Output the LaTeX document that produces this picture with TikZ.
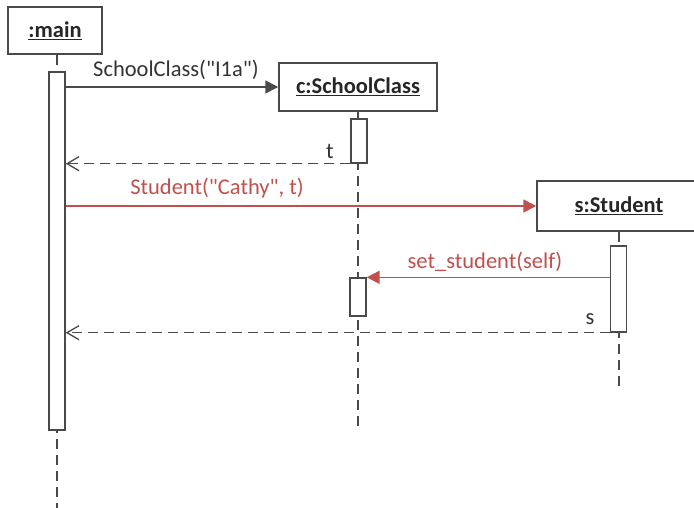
\documentclass[tikz,border=0pt]{standalone}
\usepackage{fontspec}
\setmainfont{Carlito}[Ligatures=TeXOff]
\usetikzlibrary{arrows.meta}
\definecolor{ln}{HTML}{4A4A4A}
\definecolor{rd}{HTML}{C0504D}
\tikzset{
  objbox/.style={draw=ln, line width=1.5pt, fill=white, inner sep=0pt,
    font=\fontsize{22.5}{26}\selectfont\bfseries, text=black!85},
  actbox/.style={draw=ln, line width=1.4pt, fill=white, minimum width=16pt, inner sep=0pt},
  lifeline/.style={draw=ln, line width=1.4pt, dash pattern=on 10pt off 6pt},
  msg/.style={draw=ln, line width=1.6pt, -{Triangle[length=13pt,width=13pt]}},
  redmsg/.style={draw=rd, line width=1.6pt, -{Triangle[length=13pt,width=13pt]}},
  ret/.style={draw=ln, line width=1.4pt, dash pattern=on 10pt off 6pt, -{Straight Barb[length=12pt,width=14pt,line width=1.3pt]}},
  lbl/.style={inner sep=0pt, font=\fontsize{22.5}{26}\selectfont, text=black!80},
  redlbl/.style={inner sep=0pt, font=\fontsize{22.5}{26}\selectfont, text=rd},
}
\begin{document}
\begin{tikzpicture}[x=1pt,y=-1pt]
\useasboundingbox (0,0) rectangle (694,508);
\clip (0,0) rectangle (694,508);
% lifeline ends
\coordinate (mainEnd) at (57,508);
\coordinate (cEnd) at (358,428);
\coordinate (sEnd) at (619,386);
% object boxes
\node[objbox, minimum width=94pt, minimum height=47pt] (main) at (55,30.5) {\underline{:main}};
\node[objbox, minimum width=158pt, minimum height=48pt] (cbox) at (358,87) {\underline{c:SchoolClass}};
\node[objbox, minimum width=164pt, minimum height=50pt] (sbox) at (619,206) {\underline{s:Student}};
% lifelines
\draw[lifeline] (main.south -| mainEnd) -- (mainEnd);
\draw[lifeline] (cbox.south) -- (cEnd);
\draw[lifeline] (sbox.south) -- (sEnd);
% activations
\node[actbox, minimum height=358pt] (act1) at (57,251) {};
\node[actbox, minimum height=44pt] (act2) at (359,141) {};
\node[actbox, minimum height=38pt] (act3) at (358,297) {};
\node[actbox, minimum height=86pt] (act4) at (618.5,289) {};
% messages
\draw[msg] (act1.east |- cbox.west) -- (cbox.west);
\draw[ret] (act2.south west) -- (act2.south west -| act1.east);
\draw[redmsg] (act1.east |- sbox.west) -- (sbox.west);
\draw[redmsg] (act4.west |- act3.north east) -- (act3.north east);
\draw[ret] (act4.south west) -- (act4.south west -| act1.east);
% labels
\node[lbl] (l1) at (176,70) {SchoolClass("I1a")};
\node[lbl] (l2) at (330,151) {t};
\node[redlbl] (l3) at (217,188) {Student("Cathy", t)};
\node[redlbl] (l4) at (485,262) {set\_student(self)};
\node[lbl] (l5) at (590,319) {s};
\end{tikzpicture}
\end{document}
